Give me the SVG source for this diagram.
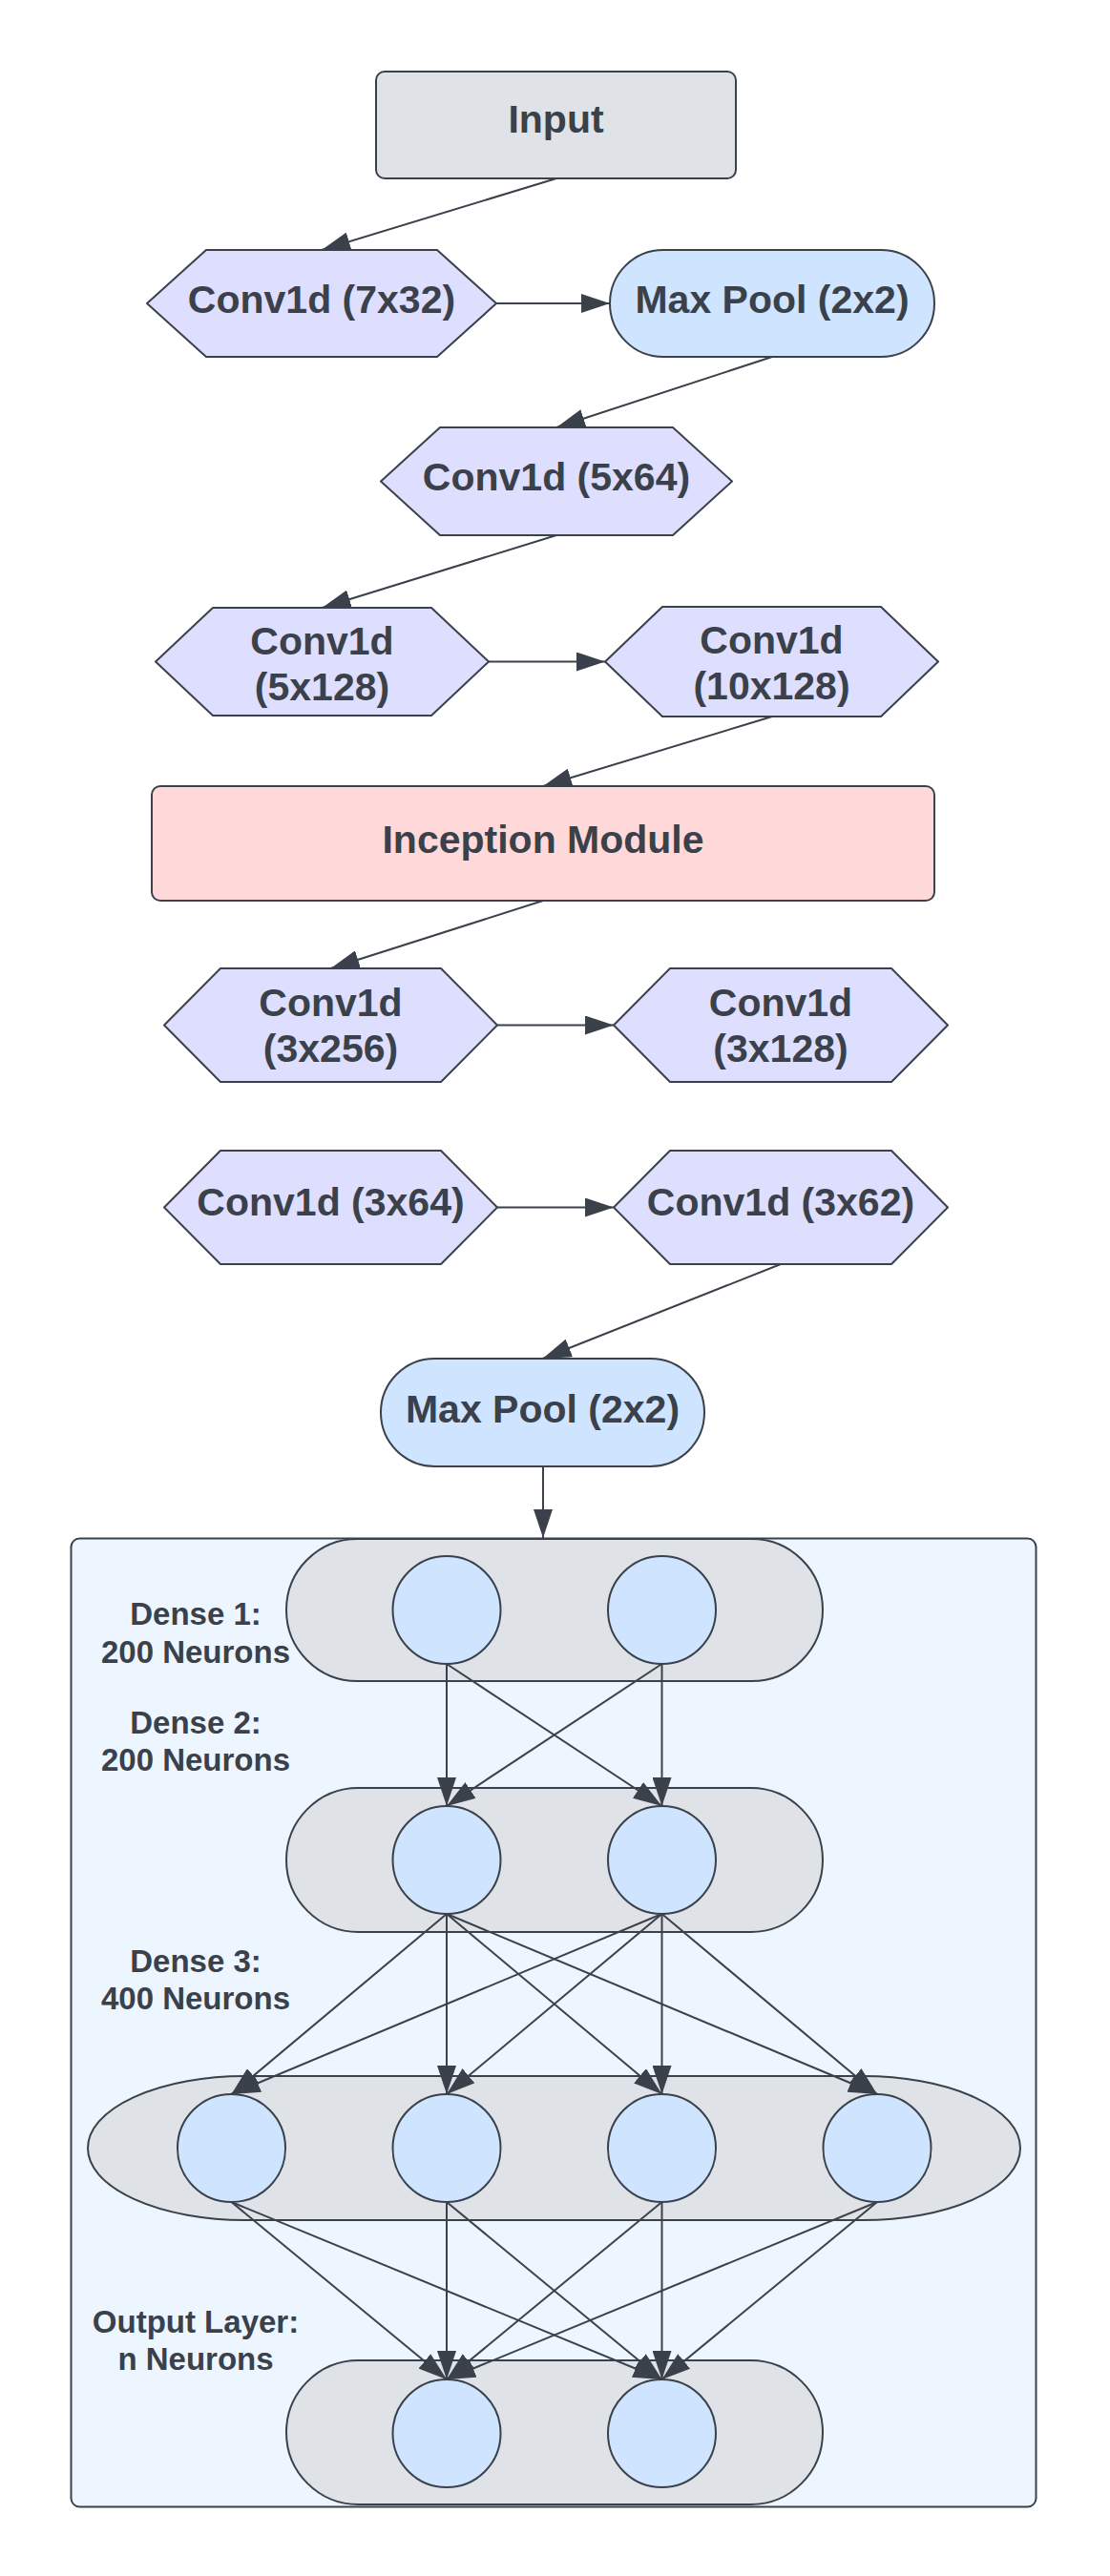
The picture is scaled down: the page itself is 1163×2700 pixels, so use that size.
<svg xmlns="http://www.w3.org/2000/svg" width="1163" height="2700" viewBox="0 0 1163 2700">
<defs>
<marker id="ah" markerUnits="userSpaceOnUse" markerWidth="30" markerHeight="20" refX="30" refY="10" orient="auto">
<path d="M0,0 L30,10 L0,20 z" fill="#3a414a"/>
</marker>
<style>
.s{stroke:#3a414a;stroke-width:2;stroke-linejoin:round}
.hex{fill:#dedeff}
.pool{fill:#cfe4ff}
.grey{fill:#dfe3e8}
.pink{fill:#ffd9d9}
.cont{fill:#edf5ff}
.neu{fill:#cfe4ff}
.t{font-family:"Liberation Sans",Arial,sans-serif;font-weight:bold;font-size:41px;fill:#3a414a;text-anchor:middle}
.lt{font-family:"Liberation Sans",Arial,sans-serif;font-weight:bold;font-size:33px;fill:#3a414a;text-anchor:middle}
.c{stroke:#3a414a;stroke-width:2;fill:none;marker-end:url(#ah)}
</style>
</defs>
<rect width="1163" height="2700" fill="#ffffff"/>

<g id="dense-container">
<rect class="s cont" x="74.5" y="1612.5" width="1011" height="1015" rx="9"/>
</g>

<g id="connectors">
<line class="c" x1="583" y1="187" x2="337" y2="262"/>
<line class="c" x1="520" y1="318" x2="639" y2="318"/>
<line class="c" x1="809" y1="374" x2="583" y2="448"/>
<line class="c" x1="583" y1="561" x2="337.5" y2="637"/>
<line class="c" x1="512" y1="693.5" x2="634" y2="693.5"/>
<line class="c" x1="809" y1="751" x2="569" y2="824"/>
<line class="c" x1="569" y1="944" x2="346.5" y2="1015"/>
<line class="c" x1="521" y1="1074.5" x2="643" y2="1074.5"/>
<line class="c" x1="521" y1="1265.5" x2="643" y2="1265.5"/>
<line class="c" x1="818" y1="1325" x2="568.5" y2="1424"/>
<line class="c" x1="569" y1="1537" x2="569" y2="1612"/>
</g>

<g id="input"><rect class="s grey" x="394" y="75" width="377" height="112" rx="9"/><text class="t" x="582.5" y="139">Input</text></g>
<g id="conv1"><polygon class="s hex" points="154,318 216,262 458,262 520,318 458,374 216,374"/><text class="t" x="337" y="328">Conv1d (7x32)</text></g>
<g id="pool1"><rect class="s pool" x="639" y="262" width="340" height="112" rx="56"/><text class="t" x="809" y="328">Max Pool (2x2)</text></g>
<g id="conv2"><polygon class="s hex" points="399,504.5 461,448 705,448 767,504.5 705,561 461,561"/><text class="t" x="583" y="514">Conv1d (5x64)</text></g>
<g id="conv3"><polygon class="s hex" points="163,693.5 223,637 452,637 512,693.5 452,750 223,750"/><text class="t" x="337.5" y="686">Conv1d</text><text class="t" x="337.5" y="734">(5x128)</text></g>
<g id="conv4"><polygon class="s hex" points="634,693.5 694,636 923,636 983,693.5 923,751 694,751"/><text class="t" x="808.5" y="685">Conv1d</text><text class="t" x="808.5" y="733">(10x128)</text></g>
<g id="inception"><rect class="s pink" x="159" y="824" width="820" height="120" rx="9"/><text class="t" x="569" y="894">Inception Module</text></g>
<g id="conv5"><polygon class="s hex" points="172,1074.5 231,1015 462,1015 521,1074.5 462,1134 231,1134"/><text class="t" x="346.5" y="1065">Conv1d</text><text class="t" x="346.5" y="1113">(3x256)</text></g>
<g id="conv6"><polygon class="s hex" points="643,1074.5 702,1015 934,1015 993,1074.5 934,1134 702,1134"/><text class="t" x="818" y="1065">Conv1d</text><text class="t" x="818" y="1113">(3x128)</text></g>
<g id="conv7"><polygon class="s hex" points="172,1265.5 231,1206 462,1206 521,1265.5 462,1325 231,1325"/><text class="t" x="346.5" y="1274">Conv1d (3x64)</text></g>
<g id="conv8"><polygon class="s hex" points="643,1265.5 702,1206 934,1206 993,1265.5 934,1325 702,1325"/><text class="t" x="818" y="1274">Conv1d (3x62)</text></g>
<g id="pool2"><rect class="s pool" x="399" y="1424" width="339" height="113" rx="56.5"/><text class="t" x="568.5" y="1491">Max Pool (2x2)</text></g>

<g id="layer1">
<rect class="s grey" x="300" y="1613" width="562" height="149" rx="74.5"/>
<circle class="s neu" cx="468" cy="1687.5" r="56.5"/>
<circle class="s neu" cx="693.5" cy="1687.5" r="56.5"/>
</g>
<g id="layer2">
<rect class="s grey" x="300" y="1874" width="562" height="151" rx="75.5"/>
<circle class="s neu" cx="468" cy="1949.5" r="56.5"/>
<circle class="s neu" cx="693.5" cy="1949.5" r="56.5"/>
</g>
<g id="layer3">
<rect class="s grey" x="92" y="2176" width="977" height="151" rx="165" ry="75.5"/>
<circle class="s neu" cx="242.5" cy="2251.5" r="56.5"/>
<circle class="s neu" cx="468" cy="2251.5" r="56.5"/>
<circle class="s neu" cx="693.5" cy="2251.5" r="56.5"/>
<circle class="s neu" cx="919" cy="2251.5" r="56.5"/>
</g>
<g id="layer4">
<rect class="s grey" x="300" y="2474" width="562" height="151" rx="75.5"/>
<circle class="s neu" cx="468" cy="2550.5" r="56.5"/>
<circle class="s neu" cx="693.5" cy="2550.5" r="56.5"/>
</g>

<g id="dense-connectors">
<line class="c" x1="468" y1="1744" x2="468" y2="1893"/>
<line class="c" x1="468" y1="1744" x2="693.5" y2="1893"/>
<line class="c" x1="693.5" y1="1744" x2="468" y2="1893"/>
<line class="c" x1="693.5" y1="1744" x2="693.5" y2="1893"/>

<line class="c" x1="468" y1="2006" x2="242.5" y2="2195"/>
<line class="c" x1="468" y1="2006" x2="468" y2="2195"/>
<line class="c" x1="468" y1="2006" x2="693.5" y2="2195"/>
<line class="c" x1="468" y1="2006" x2="919" y2="2195"/>
<line class="c" x1="693.5" y1="2006" x2="242.5" y2="2195"/>
<line class="c" x1="693.5" y1="2006" x2="468" y2="2195"/>
<line class="c" x1="693.5" y1="2006" x2="693.5" y2="2195"/>
<line class="c" x1="693.5" y1="2006" x2="919" y2="2195"/>

<line class="c" x1="242.5" y1="2308" x2="468" y2="2494"/>
<line class="c" x1="242.5" y1="2308" x2="693.5" y2="2494"/>
<line class="c" x1="468" y1="2308" x2="468" y2="2494"/>
<line class="c" x1="468" y1="2308" x2="693.5" y2="2494"/>
<line class="c" x1="693.5" y1="2308" x2="468" y2="2494"/>
<line class="c" x1="693.5" y1="2308" x2="693.5" y2="2494"/>
<line class="c" x1="919" y1="2308" x2="468" y2="2494"/>
<line class="c" x1="919" y1="2308" x2="693.5" y2="2494"/>
</g>

<g id="labels">
<text class="lt" x="205" y="1703">Dense 1:</text>
<text class="lt" x="205" y="1743">200 Neurons</text>
<text class="lt" x="205" y="1817">Dense 2:</text>
<text class="lt" x="205" y="1856">200 Neurons</text>
<text class="lt" x="205" y="2067">Dense 3:</text>
<text class="lt" x="205" y="2106">400 Neurons</text>
<text class="lt" x="205" y="2445">Output Layer:</text>
<text class="lt" x="205" y="2484">n Neurons</text>
</g>
</svg>
